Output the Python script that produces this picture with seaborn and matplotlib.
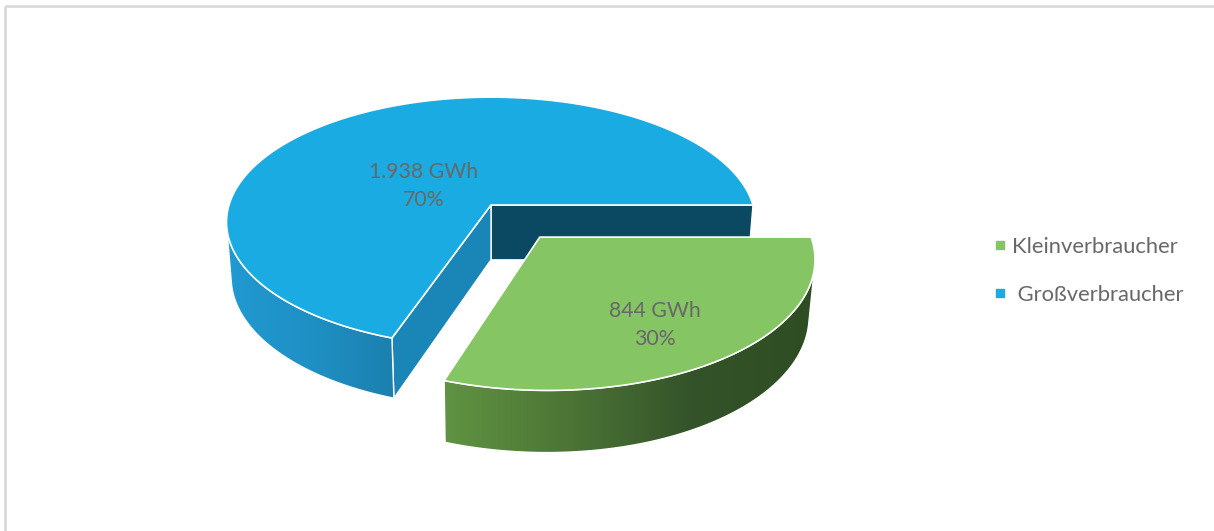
import numpy as np
import matplotlib
matplotlib.use("Agg")
import matplotlib.pyplot as plt
import seaborn as sns
from matplotlib.patches import Polygon, Rectangle
from matplotlib.colors import LinearSegmentedColormap
from matplotlib.lines import Line2D

# --- data -------------------------------------------------------------
categories = ["Kleinverbraucher", " Großverbraucher"]
energy_gwh = [844, 1938]
value_labels = ["844 GWh", "1.938 GWh"]
share_labels = ["30%", "70%"]

# --- style ------------------------------------------------------------
sns.set_theme(style="white")
plt.rcParams["font.family"] = ["Lato", "DejaVu Sans"]

palette = {
    "Kleinverbraucher": dict(top="#85c563", side=["#609342", "#4c7536", "#34532a", "#2f4d22"],
                             cut_start="#3b5e2a", cut_end="#3b5e2a"),
    " Großverbraucher": dict(top="#19abe1", side=["#2199d2", "#1f90c4", "#1b80ae"],
                             cut_start="#0b4862", cut_end="#1a85b7"),
}
TEXT_GREY = "#686868"

W, H = 1214, 531
fig = plt.figure(figsize=(W / 100, H / 100), dpi=100)
ax = fig.add_axes([0, 0, 1, 1])

# --- simple perspective camera for the 3-D pie -------------------------
CX, CY = 491, 205          # screen position of the pie centre
SCALE = 262                # pixels per pie radius at the centre depth
SIN_E = 0.468              # camera elevation
COS_E = np.sqrt(1 - SIN_E ** 2)
PERSP = 0.155              # 1 / camera distance (in radii)
THICK = 0.241              # pie height (in radii)
EXPLODE = 0.31             # pull-out distance of the small slice
CAM = np.array([0.0, SIN_E / PERSP, COS_E / PERSP])


def project(X, Y, Z):
    X, Y, Z = np.asarray(X, float), np.asarray(Y, float), np.asarray(Z, float)
    d = 1 - PERSP * (Y * SIN_E + Z * COS_E)
    xs = SCALE * X / d
    ys = SCALE * (Y * COS_E - Z * SIN_E) / d
    return np.column_stack([CX + xs, CY - ys])


def rim(t, Y, off):
    return off[0] + np.cos(t), np.full_like(t, Y), off[1] - np.sin(t)


def gradient_polygon(xy, colors, zorder):
    patch = Polygon(xy, closed=True, facecolor="none", edgecolor="none", zorder=zorder)
    ax.add_patch(patch)
    cmap = LinearSegmentedColormap.from_list("g", colors)
    x0, x1 = xy[:, 0].min(), xy[:, 0].max()
    y0, y1 = xy[:, 1].min(), xy[:, 1].max()
    im = ax.imshow(np.linspace(0, 1, 256)[None, :], cmap=cmap, aspect="auto",
                   extent=(x0, x1, y1, y0), zorder=zorder, interpolation="bilinear")
    im.set_clip_path(patch)
    ax.add_patch(Polygon(xy, closed=True, facecolor="none", edgecolor="white",
                         lw=1.0, zorder=zorder + 0.05))


def face_visible(point, normal):
    return np.dot(normal, CAM - point) > 0


total = sum(energy_gwh)
fractions = [v / total for v in energy_gwh]

# big slice starts at 3 o'clock and runs counter-clockwise; the small one fills the rest
spans = {}
start = 0.0
for cat, frac in sorted(zip(categories, fractions), key=lambda p: -p[1]):
    spans[cat] = (start, start + 2 * np.pi * frac)
    start += 2 * np.pi * frac

draw_order = sorted(categories, key=lambda c: -fractions[categories.index(c)])
label_pos = {"Kleinverbraucher": (655, 325), " Großverbraucher": (424, 186)}

for layer, cat in enumerate(draw_order):
    i = categories.index(cat)
    t1, t2 = spans[cat]
    mid = 0.5 * (t1 + t2)
    explode = EXPLODE if cat == "Kleinverbraucher" else 0.0
    off = (explode * np.cos(mid), -explode * np.sin(mid))
    col = palette[cat]
    z0 = 10 * (layer + 1)

    t = np.linspace(t1, t2, 400)
    top_rim = project(*rim(t, 0.0, off))
    centre_top = project(off[0], 0.0, off[1])
    centre_bot = project(off[0], -THICK, off[1])

    # radial cut faces
    for tc, normal_ang, color in ((t1, t1 - np.pi / 2, col["cut_start"]),
                                  (t2, t2 + np.pi / 2, col["cut_end"])):
        p = np.array([off[0] + 0.5 * np.cos(tc), -THICK / 2, off[1] - 0.5 * np.sin(tc)])
        n = np.array([np.cos(normal_ang), 0.0, -np.sin(normal_ang)])
        if face_visible(p, n):
            rt = project(*rim(np.array([tc]), 0.0, off))[0]
            rb = project(*rim(np.array([tc]), -THICK, off))[0]
            quad = np.array([centre_top[0], rt, rb, centre_bot[0]])
            ax.add_patch(Polygon(quad, closed=True, facecolor=color, edgecolor="white",
                                 lw=1.0, zorder=z0))

    # outer side, only where it faces the camera
    pts = np.column_stack([off[0] + np.cos(t), np.full_like(t, -THICK / 2), off[1] - np.sin(t)])
    normals = np.column_stack([np.cos(t), np.zeros_like(t), -np.sin(t)])
    vis = np.einsum("ij,ij->i", normals, CAM - pts) > 0
    if vis.any():
        tv = t[vis]
        side = np.vstack([project(*rim(tv, 0.0, off)),
                          project(*rim(tv[::-1], -THICK, off))])
        gradient_polygon(side, col["side"], z0 + 1)

    # top face
    top = np.vstack([centre_top, top_rim])
    ax.add_patch(Polygon(top, closed=True, facecolor=col["top"], edgecolor="white",
                         lw=1.2, joinstyle="round", zorder=z0 + 2))

    ax.text(*label_pos[cat], f"{value_labels[i]}\n{share_labels[i]}", ha="center",
            va="center", color=TEXT_GREY, fontsize=15.3, linespacing=1.5, zorder=z0 + 3)

# chart frame (only the top and left edges fall inside the canvas)
ax.add_patch(Rectangle((5, 6), W + 20, H + 20, facecolor="none", edgecolor="#d9d9d9",
                       lw=2, zorder=1))

handles = [Line2D([], [], marker="s", linestyle="none", markersize=6,
                  color=palette[c]["top"]) for c in categories]
ax.legend(handles, categories, loc="center left", bbox_to_anchor=(0.801, 0.4896),
          frameon=False, fontsize=15.8, labelcolor=TEXT_GREY, handletextpad=0.2,
          labelspacing=1.28, handlelength=0.7)

ax.set_xlim(0, W)
ax.set_ylim(H, 0)
ax.axis("off")
fig.savefig("out.png", dpi=100, facecolor="white")
